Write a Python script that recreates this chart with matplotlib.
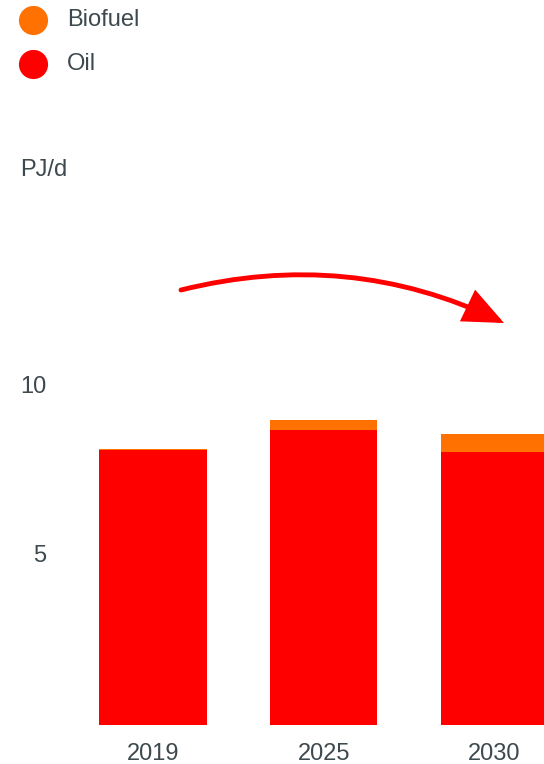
import matplotlib.pyplot as plt
from matplotlib.lines import Line2D
from matplotlib.patches import FancyArrowPatch

plt.rcParams['font.family'] = ['Liberation Sans', 'DejaVu Sans']

years = ['2019', '2025', '2030']
oil = [8.13, 8.73, 8.09]
biofuel = [0.03, 0.29, 0.52]
y_ticks = [5, 10]
legend_labels = ['Biofuel', 'Oil']

RED = '#ff0000'
ORANGE = '#ff7100'
TEXT = '#3d494e'

W, H = 544, 764
fig = plt.figure(figsize=(W / 100, H / 100), dpi=100)

# axes fill the width; baseline sits 39 px above the bottom edge
ax = fig.add_axes([0, 39 / H, 1, 1 - 39 / H])
px_per_unit = 33.8
ax.set_ylim(0, (H - 39) / px_per_unit)
ax.set_xlim(-0.895, 2.29)

x = range(len(years))
ax.bar(x, oil, width=0.63, color=RED, linewidth=0)
ax.bar(x, biofuel, width=0.63, bottom=oil, color=ORANGE, linewidth=0)

for s in ax.spines.values():
    s.set_visible(False)
ax.set_yticks([])
ax.set_xticks(list(x))
ax.set_xticklabels(years, fontsize=17, color=TEXT)
ax.tick_params(axis='x', length=0, pad=13)

for v in y_ticks:
    ax.text(46 / W, v, str(v), transform=ax.get_yaxis_transform(),
            ha='right', va='center', fontsize=17, color=TEXT)

fig.text(20 / W, 1 - 170 / H, 'PJ/d', ha='left', va='center',
         fontsize=17, color=TEXT)

# curved arrow
arrow = FancyArrowPatch((181 / W, 1 - 290 / H), (504 / W, 1 - 323 / H),
                        transform=fig.transFigure,
                        connectionstyle='arc3,rad=-0.18',
                        arrowstyle='-|>,head_length=23,head_width=10',
                        mutation_scale=1, color=RED, lw=3.5,
                        shrinkA=0, shrinkB=0, capstyle='round',
                        joinstyle='miter')
fig.add_artist(arrow)

# legend: round swatches with labels
for i, (label, color) in enumerate(zip(legend_labels, [ORANGE, RED])):
    yc = 1 - (20 + 44 * i) / H
    fig.add_artist(Line2D([33 / W], [yc], marker='o', ls='', markersize=21,
                          color=color, markeredgewidth=0,
                          transform=fig.transFigure))
    fig.text(67 / W, yc, label, ha='left', va='center', fontsize=17,
             color=TEXT)

fig.savefig('out.png', dpi=100)
